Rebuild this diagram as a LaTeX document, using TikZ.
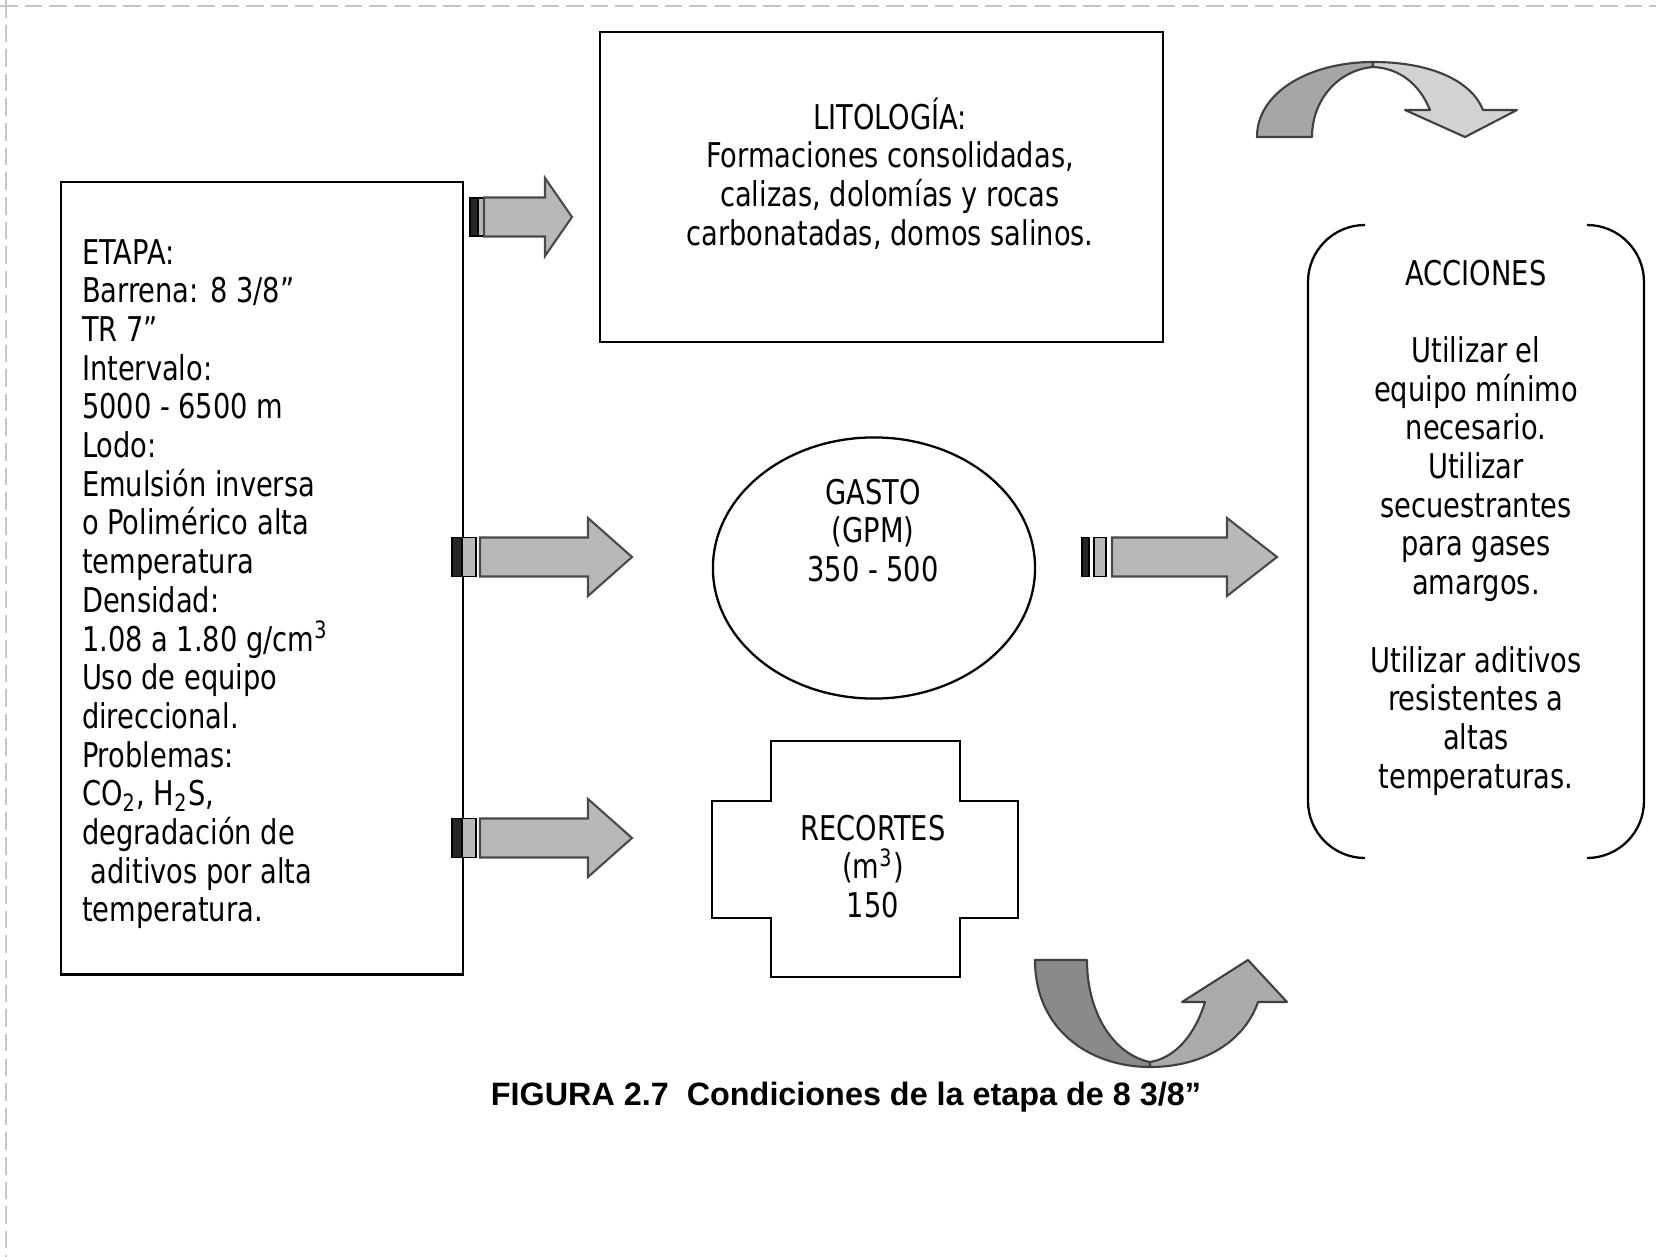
\documentclass[tikz,border=0pt]{standalone}
\usepackage{fontspec}
\usetikzlibrary{shapes.geometric}
\newfontfamily\bodyfont[FakeStretch=0.8]{DejaVu Sans}
\newfontfamily\capfont{Liberation Sans}
\definecolor{arrowfill}{HTML}{B8B8B8}
\definecolor{arrowedge}{HTML}{4A4A4A}
\definecolor{curvedark}{HTML}{A6A6A6}
\definecolor{curvelight}{HTML}{D2D2D2}
\definecolor{curvedarkb}{HTML}{8A8A8A}
\definecolor{curvelightb}{HTML}{ABABAB}

% block arrow: body start, head base, tip, centre line
\newcommand\fatarrow[4]{%
  \filldraw[arrowbody] (#1,#4-19.5) -- (#2,#4-19.5) -- (#2,#4-39) -- (#3,#4)
    -- (#2,#4+39) -- (#2,#4+19.5) -- (#1,#4+19.5) -- cycle;}

\begin{document}
\begin{tikzpicture}[x=0.01cm,y=-0.01cm,
  boxline/.style={draw=black, line width=0.65pt},
  txt/.style={font=\bodyfont\fontsize{9.7}{11}\selectfont, inner sep=0pt, outer sep=0pt, text=black},
  arrowbody/.style={fill=arrowfill, draw=arrowedge, line width=0.6pt, line join=miter},
  stubdark/.style={fill=black!85, draw=black, line width=0.5pt},
  stubgray/.style={fill=gray!55, draw=black, line width=0.5pt},
  curveedge/.style={draw=black!75, line width=0.6pt, line join=round},
  pageedge/.style={draw=gray!45, line width=0.5pt, dash pattern=on 5pt off 2pt}]

\fill[white] (0,0) rectangle (1656,1257);
\useasboundingbox (0,0) rectangle (1656,1257);

% sheet edges
\draw[pageedge] (0,6) -- (1656,6);
\draw[pageedge] (6,0) -- (6,1257);

% stage data
\node (etapa) [boxline, anchor=north west, minimum width=4.02cm, minimum height=7.92cm, inner sep=0pt, outer sep=0pt] at (61,182) {};
\node (etapatxt) [txt, anchor=north west, align=left] at (82,229)
  {\rule{0pt}{10pt}ETAPA:\\Barrena: 8 3/8”\\TR 7”\\Intervalo:\\5000 - 6500 m\\Lodo:\\Emulsión inversa\\o Polimérico alta\\temperatura\\Densidad:\\1.08 a 1.80 g/cm\textsuperscript{3}\\Uso de equipo\\direccional.\\Problemas:\\CO\textsubscript{2}, H\textsubscript{2}S,\\degradación de\\\hspace{2.5pt}aditivos por alta\\temperatura.};

% lithology
\node (lito) [boxline, anchor=north west, minimum width=5.63cm, minimum height=3.10cm, inner sep=0pt, outer sep=0pt] at (600,32) {};
\node (litotxt) [txt, anchor=north, align=center] at (890,94)
  {\rule{0pt}{10pt}LITOLOGÍA:\\Formaciones consolidadas,\\calizas, dolomías y rocas\\carbonatadas, domos salinos.};

% flow rate
\node (gasto) [boxline, ellipse, minimum width=3.22cm, minimum height=2.61cm, inner sep=0pt, outer sep=0pt] at (874,568) {};
\node (gastotxt) [txt, anchor=north, align=center] at (873,469)
  {\rule{0pt}{10pt}GASTO\\(GPM)\\350 - 500};

% cuttings
\draw[boxline] (771,741) -- (960,741) -- (960,801) -- (1018,801) -- (1018,918)
  -- (960,918) -- (960,977) -- (771,977) -- (771,918) -- (712,918) -- (712,801)
  -- (771,801) -- cycle;
\node (recortes) [txt, anchor=north, align=center] at (873,805)
  {\rule{0pt}{10pt}RECORTES\\(m\textsuperscript{3})\\150};

% actions, bracket-shaped frame
\node (acc) [anchor=north west, minimum width=3.36cm, minimum height=6.33cm, inner sep=0pt, outer sep=0pt] at (1308,225) {};
\draw[boxline] (1365,225) .. controls (1333.5,225) and (1308,250.5) .. (1308,282)
  -- (1308,801) .. controls (1308,832.5) and (1333.5,858) .. (1365,858);
\draw[boxline] (1587,225) .. controls (1618.5,225) and (1644,250.5) .. (1644,282)
  -- (1644,801) .. controls (1644,832.5) and (1618.5,858) .. (1587,858);
\node (acctxt) [txt, anchor=north, align=center] at (1476,250)
  {\rule{0pt}{10pt}ACCIONES\\[11pt]Utilizar el\\equipo mínimo\\necesario.\\Utilizar\\secuestrantes\\para gases\\amargos.\\[11pt]Utilizar aditivos\\resistentes a\\altas\\temperaturas.};

% block arrows
\filldraw[stubdark] (470,198) rectangle (478,236);
\filldraw[stubgray] (478,198) rectangle (484,236);
\fatarrow{484}{545}{572}{217}

\filldraw[stubdark] (452,537.5) rectangle (462,576.5);
\filldraw[stubgray] (462,537.5) rectangle (476,576.5);
\fatarrow{480}{588}{632}{557}

\filldraw[stubdark] (452,818.5) rectangle (462,857.5);
\filldraw[stubgray] (462,818.5) rectangle (476,857.5);
\fatarrow{480}{588}{632}{838}

\filldraw[stubdark] (1082,537.5) rectangle (1089,576.5);
\filldraw[stubgray] (1094,537.5) rectangle (1106,576.5);
\fatarrow{1112}{1227}{1277}{557}

% curved arrow, top right
\filldraw[curveedge, fill=curvedark] (1257,137) .. controls (1257,92) and (1310,62) .. (1373,62)
  -- (1373,67) .. controls (1338,70) and (1312,100) .. (1312,137) -- cycle;
\filldraw[curveedge, fill=curvelight] (1373,62) .. controls (1433,62) and (1472,82) .. (1483,110)
  -- (1517,110) -- (1465,137) -- (1405,110) -- (1430,110)
  .. controls (1420,85) and (1400,68) .. (1373,67) -- cycle;

% curved arrow, bottom
\filldraw[curveedge, fill=curvedarkb] (1035,960) -- (1087,960)
  .. controls (1087,1015) and (1115,1055) .. (1150,1062)
  -- (1150,1067) .. controls (1090,1067) and (1035,1030) .. (1035,960) -- cycle;
\filldraw[curveedge, fill=curvelightb] (1150,1067) .. controls (1205,1067) and (1245,1040) .. (1258,1002)
  -- (1287,1002) -- (1248,960) -- (1182,1002) -- (1205,1002)
  .. controls (1195,1035) and (1175,1058) .. (1150,1062) -- cycle;

% caption
\node (caption) [anchor=base, inner sep=0pt, font=\capfont\bfseries\fontsize{9.2}{11}\selectfont] at (846,1105)
  {FIGURA 2.7\ \ Condiciones de la etapa de 8 3/8”};
\end{tikzpicture}
\end{document}
